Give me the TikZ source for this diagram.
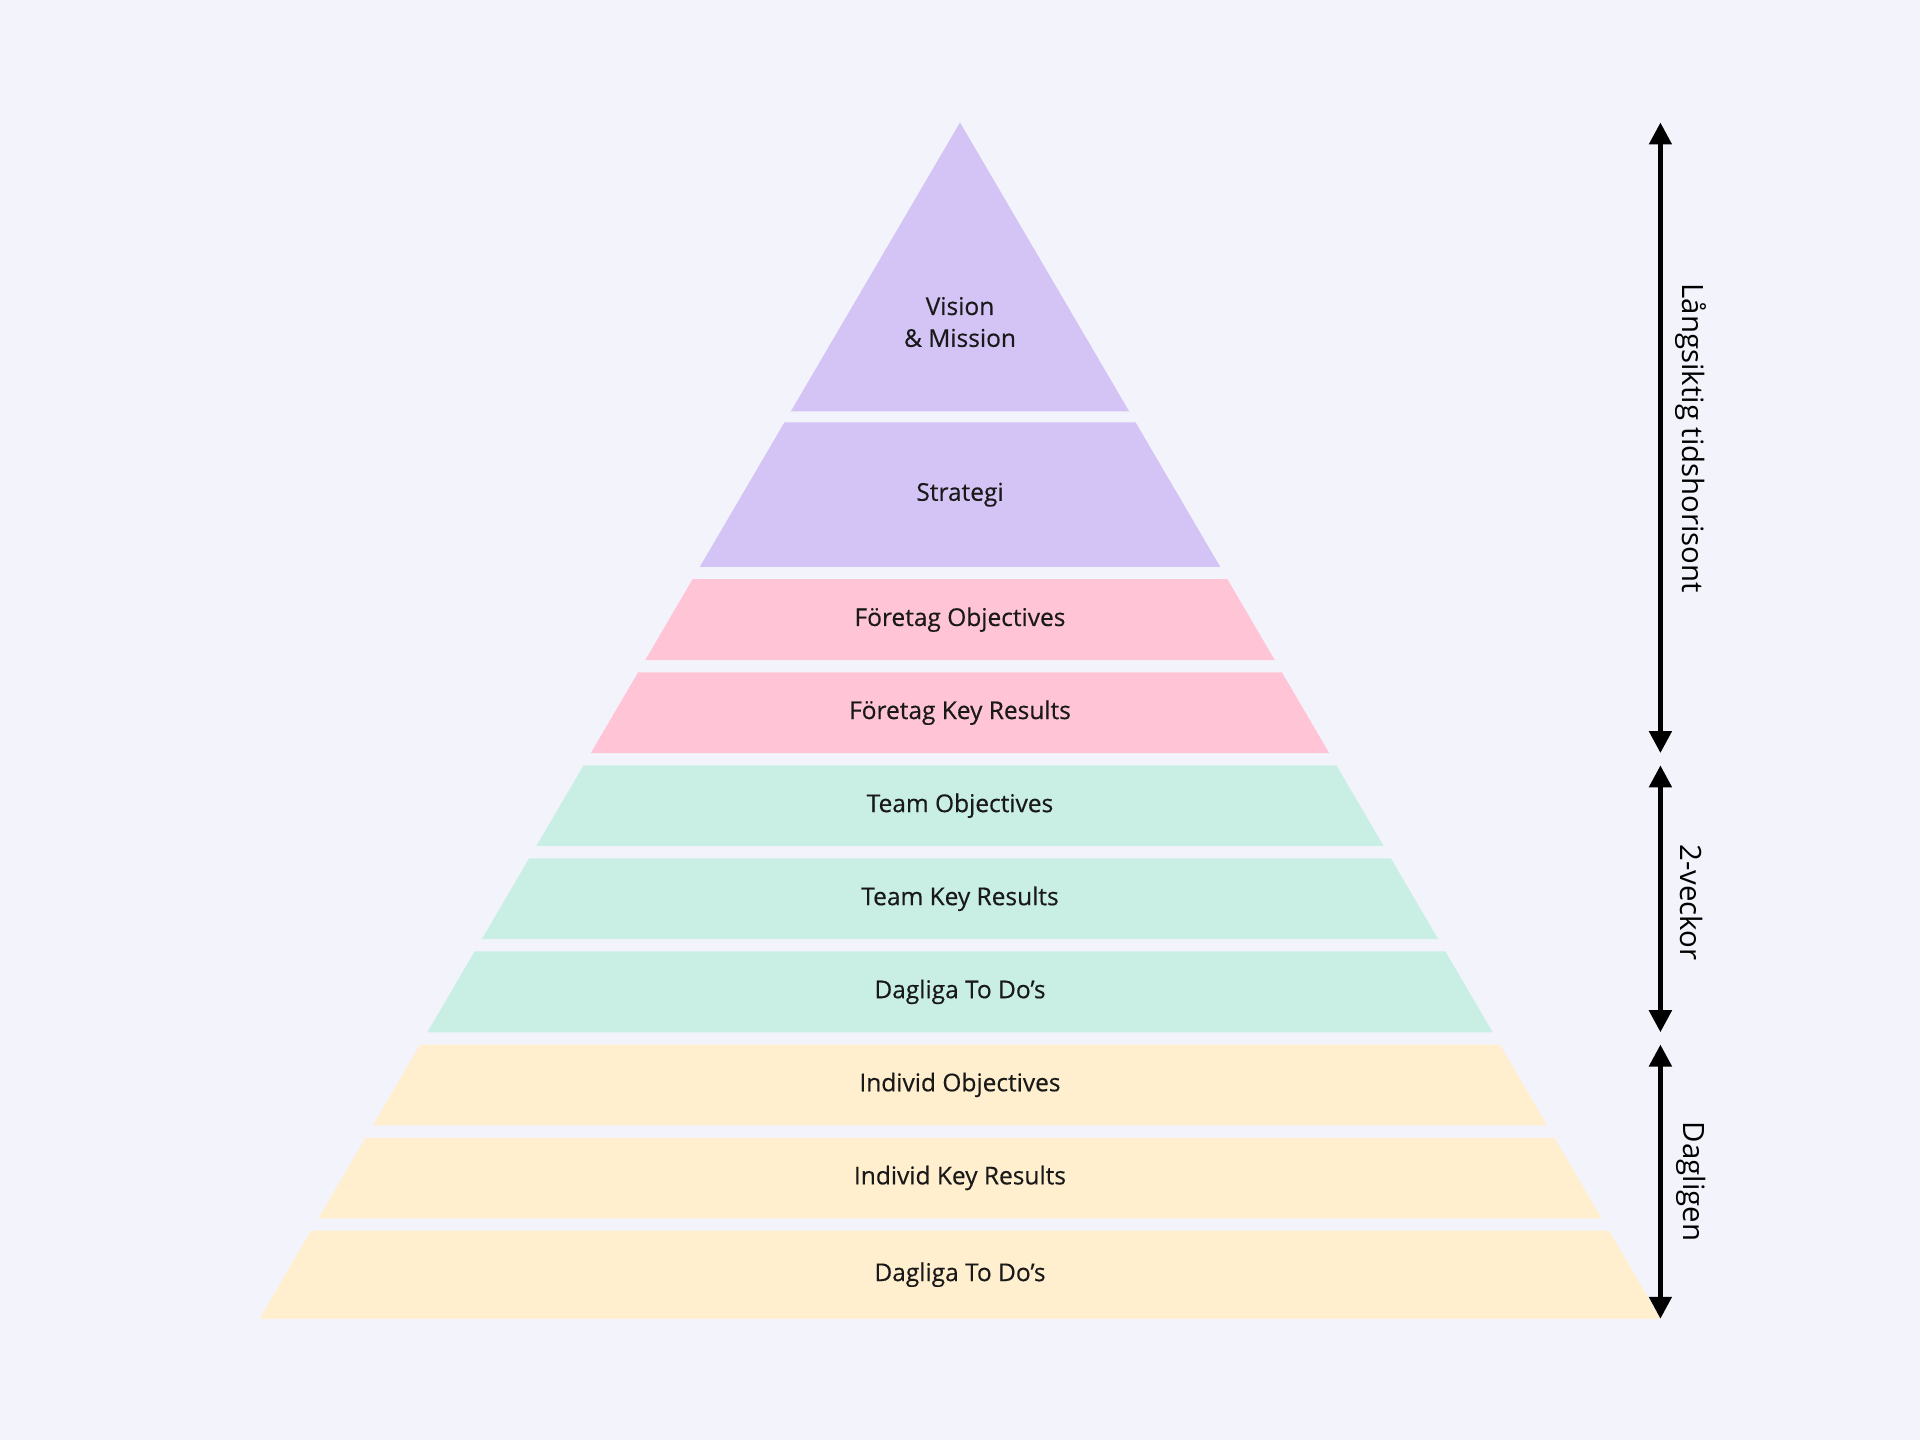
\documentclass[tikz,border=0pt]{standalone}
\usepackage{fontspec}
\setmainfont{Open Sans}
\usetikzlibrary{arrows.meta}
\definecolor{bg}{HTML}{F3F4FB}
\definecolor{cpur}{HTML}{D4C4F5}
\definecolor{cpink}{HTML}{FFC4D6}
\definecolor{cgreen}{HTML}{C9EEE4}
\definecolor{cyel}{HTML}{FFEFCE}
\tikzset{
  lbl/.style={font=\fontsize{20}{26}\selectfont\addfontfeature{FakeBold=0.4}, align=center, text=black!90},
  side/.style={font=\fontsize{24}{28}\selectfont, rotate=-90, text=black},
  span/.style={line width=4pt, {Triangle[width=18pt,length=18pt]}-{Triangle[width=18pt,length=18pt]}}
}
\begin{document}
\begin{tikzpicture}[x=1pt,y=-1pt]
\fill[bg] (0,0) rectangle (1568,1176);
\useasboundingbox (0,0) rectangle (1568,1176);
\def\s{0.5855}
\foreach \t/\b/\c/\n/\txt in {
 100/336/cpur/b1/{Vision\\\& Mission},
 345/463/cpur/b2/{Strategi},
 473/539/cpink/b3/{Företag Objectives},
 549/615/cpink/b4/{Företag Key Results},
 625/691/cgreen/b5/{Team Objectives},
 701/767/cgreen/b6/{Team Key Results},
 777/843/cgreen/b7/{Dagliga To Do’s},
 853/919/cyel/b8/{Individ Objectives},
 929/995/cyel/b9/{Individ Key Results},
 1005/1077/cyel/b10/{Dagliga To Do’s}}{
  \pgfmathsetmacro\wt{(\t-100)*\s}
  \pgfmathsetmacro\wb{(\b-100)*\s}
  \fill[\c] (784-\wt,\t) -- (784+\wt,\t) -- (784+\wb,\b) -- (784-\wb,\b) -- cycle;
}
\node[lbl] (n1) at (784,263) {Vision\\\& Mission};
\node[lbl] (n2) at (784,404) {Strategi};
\node[lbl] (n3) at (784,506) {Företag Objectives};
\node[lbl] (n4) at (784,582) {Företag Key Results};
\node[lbl] (n5) at (784,658) {Team Objectives};
\node[lbl] (n6) at (784,734) {Team Key Results};
\node[lbl] (n7) at (784,810) {Dagliga To Do’s};
\node[lbl] (n8) at (784,886) {Individ Objectives};
\node[lbl] (n9) at (784,962) {Individ Key Results};
\node[lbl] (n10) at (784,1041) {Dagliga To Do’s};
\coordinate (a1) at (1356,100); \coordinate (a2) at (1356,615);
\coordinate (b1) at (1356,625); \coordinate (b2) at (1356,843);
\coordinate (c1) at (1356,853); \coordinate (c2) at (1356,1077);
\draw[span] (a1) -- (a2);
\draw[span] (b1) -- (b2);
\draw[span] (c1) -- (c2);
\node[side] (s1) at (1381,358) {Långsiktig tidshorisont};
\node[side] (s2) at (1381,737) {2-veckor};
\node[side] (s3) at (1381,965) {Dagligen};
\end{tikzpicture}
\end{document}
